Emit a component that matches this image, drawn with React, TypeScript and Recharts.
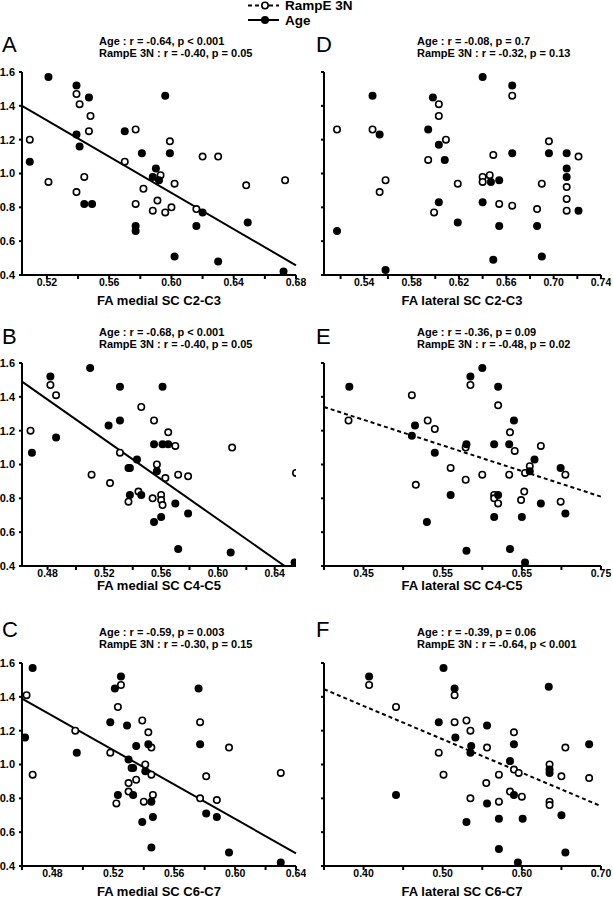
import { ScatterChart, Scatter, XAxis, YAxis, ReferenceLine } from 'recharts'

type Pt = [number, number]

// filled dots = Age, open dots = RampE 3N ; [FA, score]
const ageA: Pt[] = [
  [0.521, 1.57], [0.539, 1.52], [0.547, 1.45], [0.596, 1.46], [0.570, 1.25], [0.539, 1.23],
  [0.541, 1.16], [0.581, 1.12], [0.599, 1.12], [0.509, 1.07], [0.590, 1.03], [0.588, 0.98],
  [0.592, 0.96], [0.544, 0.82], [0.549, 0.82], [0.620, 0.77], [0.649, 0.71], [0.577, 0.69],
  [0.616, 0.69], [0.577, 0.66], [0.602, 0.51], [0.630, 0.48], [0.672, 0.42],
]
const rampA: Pt[] = [
  [0.539, 1.47], [0.541, 1.41], [0.548, 1.34], [0.547, 1.25], [0.577, 1.26], [0.509, 1.20],
  [0.599, 1.19], [0.620, 1.10], [0.630, 1.10], [0.570, 1.07], [0.593, 0.99], [0.544, 0.98],
  [0.521, 0.95], [0.602, 0.94], [0.648, 0.93], [0.673, 0.96], [0.582, 0.91], [0.539, 0.89],
  [0.591, 0.84], [0.577, 0.82], [0.600, 0.80], [0.616, 0.79], [0.588, 0.78], [0.596, 0.77],
]

const ageB: Pt[] = [
  [0.510, 1.57], [0.482, 1.52], [0.531, 1.46], [0.561, 1.46], [0.531, 1.26], [0.523, 1.23],
  [0.486, 1.16], [0.555, 1.12], [0.561, 1.12], [0.565, 1.12], [0.469, 1.07], [0.543, 1.03],
  [0.557, 0.96], [0.537, 0.98], [0.538, 0.82], [0.546, 0.82], [0.570, 0.77], [0.579, 0.71],
  [0.560, 0.69], [0.555, 0.66], [0.572, 0.50], [0.609, 0.48], [0.654, 0.42],
]
const rampB: Pt[] = [
  [0.482, 1.47], [0.486, 1.41], [0.546, 1.34], [0.555, 1.26], [0.468, 1.20], [0.565, 1.19],
  [0.610, 1.10], [0.570, 1.11], [0.531, 1.07], [0.557, 1.00], [0.538, 0.98], [0.511, 0.94],
  [0.572, 0.94], [0.579, 0.93], [0.655, 0.95], [0.563, 0.92], [0.524, 0.89], [0.544, 0.84],
  [0.554, 0.80], [0.560, 0.82], [0.560, 0.79], [0.537, 0.78], [0.561, 0.76],
]

const ageC: Pt[] = [
  [0.467, 1.57], [0.525, 1.52], [0.521, 1.45], [0.576, 1.45], [0.518, 1.25], [0.529, 1.23],
  [0.462, 1.16], [0.535, 1.11], [0.543, 1.12], [0.577, 1.12], [0.496, 1.07], [0.530, 1.03],
  [0.533, 0.98], [0.541, 0.96], [0.523, 0.82], [0.533, 0.82], [0.545, 0.78], [0.581, 0.71],
  [0.588, 0.69], [0.546, 0.69], [0.539, 0.66], [0.545, 0.51], [0.596, 0.48], [0.630, 0.42],
]
const rampC: Pt[] = [
  [0.463, 1.41], [0.525, 1.47], [0.523, 1.34], [0.539, 1.26], [0.577, 1.25], [0.495, 1.20],
  [0.543, 1.19], [0.518, 1.07], [0.596, 1.10], [0.545, 1.10], [0.541, 1.00], [0.532, 0.98],
  [0.545, 0.94], [0.467, 0.94], [0.630, 0.95], [0.581, 0.93], [0.535, 0.91], [0.530, 0.89],
  [0.530, 0.84], [0.546, 0.82], [0.540, 0.78], [0.522, 0.77], [0.577, 0.80], [0.588, 0.79],
]

const ageD: Pt[] = [
  [0.640, 1.57], [0.665, 1.52], [0.547, 1.46], [0.598, 1.45], [0.594, 1.26], [0.553, 1.23],
  [0.603, 1.17], [0.608, 1.08], [0.665, 1.12], [0.696, 1.12], [0.711, 1.12], [0.711, 1.03],
  [0.711, 0.98], [0.647, 0.95], [0.654, 0.96], [0.603, 0.83], [0.640, 0.83], [0.721, 0.78],
  [0.619, 0.71], [0.654, 0.69], [0.686, 0.69], [0.517, 0.66], [0.649, 0.49], [0.690, 0.51],
  [0.558, 0.43],
]
const rampD: Pt[] = [
  [0.665, 1.46], [0.603, 1.41], [0.603, 1.34], [0.517, 1.26], [0.547, 1.26], [0.609, 1.20],
  [0.696, 1.19], [0.649, 1.11], [0.721, 1.10], [0.594, 1.08], [0.640, 0.98], [0.646, 0.99],
  [0.640, 0.95], [0.558, 0.96], [0.619, 0.94], [0.690, 0.94], [0.711, 0.92], [0.553, 0.89],
  [0.711, 0.85], [0.654, 0.82], [0.665, 0.81], [0.686, 0.79], [0.711, 0.78], [0.599, 0.77],
]

const ageE: Pt[] = [
  [0.600, 1.57], [0.585, 1.52], [0.432, 1.46], [0.620, 1.46], [0.640, 1.26], [0.515, 1.23],
  [0.511, 1.17], [0.540, 1.07], [0.580, 1.12], [0.615, 1.12], [0.634, 1.12], [0.666, 1.03],
  [0.660, 0.96], [0.699, 0.98], [0.560, 0.82], [0.620, 0.82], [0.674, 0.77], [0.705, 0.71],
  [0.615, 0.69], [0.650, 0.69], [0.530, 0.66], [0.635, 0.50], [0.580, 0.49], [0.654, 0.42],
]
const rampE: Pt[] = [
  [0.585, 1.47], [0.511, 1.41], [0.620, 1.35], [0.431, 1.26], [0.531, 1.26], [0.540, 1.21],
  [0.635, 1.19], [0.674, 1.11], [0.579, 1.10], [0.641, 1.08], [0.560, 0.98], [0.660, 0.99],
  [0.654, 0.95], [0.600, 0.94], [0.634, 0.94], [0.705, 0.94], [0.579, 0.91], [0.516, 0.88],
  [0.615, 0.82], [0.615, 0.80], [0.620, 0.77], [0.649, 0.79], [0.653, 0.84], [0.699, 0.78],
]

const ageF: Pt[] = [
  [0.501, 1.57], [0.407, 1.52], [0.515, 1.45], [0.634, 1.46], [0.495, 1.25], [0.556, 1.23],
  [0.516, 1.16], [0.536, 1.11], [0.590, 1.12], [0.685, 1.12], [0.535, 1.07], [0.585, 1.02],
  [0.635, 0.97], [0.635, 0.95], [0.441, 0.82], [0.590, 0.82], [0.556, 0.77], [0.571, 0.68],
  [0.601, 0.68], [0.650, 0.70], [0.530, 0.66], [0.571, 0.50], [0.655, 0.48], [0.595, 0.42],
]
const rampF: Pt[] = [
  [0.407, 1.47], [0.515, 1.41], [0.441, 1.34], [0.515, 1.25], [0.530, 1.26], [0.535, 1.20],
  [0.590, 1.19], [0.495, 1.07], [0.556, 1.10], [0.655, 1.10], [0.590, 0.97], [0.596, 0.95],
  [0.635, 1.00], [0.650, 0.93], [0.685, 0.92], [0.501, 0.94], [0.571, 0.94], [0.555, 0.89],
  [0.585, 0.84], [0.600, 0.81], [0.535, 0.80], [0.571, 0.78], [0.635, 0.78], [0.635, 0.76],
]

// regression lines (two end points)
const fitA: Pt[] = [[0.504, 1.40], [0.68, 0.457]]
const fitB: Pt[] = [[0.462, 1.49], [0.647, 0.40]]
const fitC: Pt[] = [[0.46, 1.39], [0.64, 0.475]]
const fitE: Pt[] = [[0.40, 1.34], [0.75, 0.81]]
const fitF: Pt[] = [[0.35, 1.445], [0.70, 0.754]]

const yTicks = [0.4, 0.6, 0.8, 1.0, 1.2, 1.4, 1.6]

const ticksA = [0.52, 0.54, 0.56, 0.58, 0.60, 0.62, 0.64, 0.66, 0.68]
const labelsA = [0.52, 0.56, 0.60, 0.64, 0.68]
const ticksB = [0.48, 0.50, 0.52, 0.54, 0.56, 0.58, 0.60, 0.62, 0.64]
const labelsB = [0.48, 0.52, 0.56, 0.60, 0.64]
const ticksC = [0.46, 0.48, 0.50, 0.52, 0.54, 0.56, 0.58, 0.60, 0.62, 0.64]
const labelsC = [0.48, 0.52, 0.56, 0.60, 0.64]
const ticksD = [0.52, 0.54, 0.56, 0.58, 0.60, 0.62, 0.64, 0.66, 0.68, 0.70, 0.72, 0.74]
const labelsD = [0.54, 0.58, 0.62, 0.66, 0.70, 0.74]
const ticksE = [0.40, 0.45, 0.50, 0.55, 0.60, 0.65, 0.70, 0.75]
const labelsE = [0.45, 0.55, 0.65, 0.75]
const ticksF = [0.35, 0.40, 0.45, 0.50, 0.55, 0.60, 0.65, 0.70]
const labelsF = [0.40, 0.50, 0.60, 0.70]

const statsA = ['Age : r = -0.64, p < 0.001', 'RampE 3N : r = -0.40, p = 0.05']
const statsB = ['Age : r = -0.68, p < 0.001', 'RampE 3N : r = -0.40, p = 0.05']
const statsC = ['Age : r = -0.59, p = 0.003', 'RampE 3N : r = -0.30, p = 0.15']
const statsD = ['Age : r = -0.08, p = 0.7', 'RampE 3N : r = -0.32, p = 0.13']
const statsE = ['Age : r = -0.36, p = 0.09', 'RampE 3N : r = -0.48, p = 0.02']
const statsF = ['Age : r = -0.39, p = 0.06', 'RampE 3N : r = -0.64, p < 0.001']

const font = '"Liberation Sans", Arial, Helvetica, sans-serif'

const COLS = [
  { left: 22, right: 296, letterX: 2, statsX: 99 },
  { left: 323.5, right: 600.5, letterX: 316, statsX: 417 },
]
const ROWS = [
  { top: 72, letterY: 45, stats1: 41.7, stats2: 53.3, titleY: [300, 300] },
  { top: 363, letterY: 336.5, stats1: 332.3, stats2: 344, titleY: [585.5, 585.5] },
  { top: 663, letterY: 629.5, stats1: 632.3, stats2: 644.8, titleY: [891.7, 891.7] },
]
const PLOT_H = 203

const panels = [
  { letter: 'A', col: 0, row: 0, age: ageA, ramp: rampA, domain: [0.504, 0.68], ticks: ticksA, labels: labelsA, fit: fitA, dashed: false, stats: statsA, title: 'FA medial SC C2-C3' },
  { letter: 'B', col: 0, row: 1, age: ageB, ramp: rampB, domain: [0.462, 0.655], ticks: ticksB, labels: labelsB, fit: fitB, dashed: false, stats: statsB, title: 'FA medial SC C4-C5' },
  { letter: 'C', col: 0, row: 2, age: ageC, ramp: rampC, domain: [0.46, 0.64], ticks: ticksC, labels: labelsC, fit: fitC, dashed: false, stats: statsC, title: 'FA medial SC C6-C7' },
  { letter: 'D', col: 1, row: 0, age: ageD, ramp: rampD, domain: [0.506, 0.74], ticks: ticksD, labels: labelsD, fit: null, dashed: false, stats: statsD, title: 'FA lateral SC C2-C3' },
  { letter: 'E', col: 1, row: 1, age: ageE, ramp: rampE, domain: [0.40, 0.75], ticks: ticksE, labels: labelsE, fit: fitE, dashed: true, stats: statsE, title: 'FA lateral SC C4-C5' },
  { letter: 'F', col: 1, row: 2, age: ageF, ramp: rampF, domain: [0.35, 0.70], ticks: ticksF, labels: labelsF, fit: fitF, dashed: true, stats: statsF, title: 'FA lateral SC C6-C7' },
]

const filledDot = (props: any) => <circle cx={props.cx} cy={props.cy} r={4} fill="#000" />
const openDot = (props: any) => (
  <circle cx={props.cx} cy={props.cy} r={3.2} fill="#fff" stroke="#000" strokeWidth={1.6} />
)

const axisStyle = { stroke: '#000', strokeWidth: 2 }

function Panel({ p }: { p: (typeof panels)[number] }) {
  const col = COLS[p.col]
  const row = ROWS[p.row]
  const YW = 22
  const MT = 10
  const MR = 10
  const XH = 20
  const width = YW + (col.right - col.left) + MR
  const height = MT + PLOT_H + XH
  const age = p.age.map(([x, y]) => ({ x, y }))
  const ramp = p.ramp.map(([x, y]) => ({ x, y }))
  const xFmt = (v: number) => (p.labels.some((l) => Math.abs(l - v) < 1e-6) ? v.toFixed(2) : '')
  const yFmt = (v: number) => (p.col === 0 ? v.toFixed(1) : '')

  return (
    <>
      <div style={{ position: 'absolute', left: col.left - YW, top: row.top - MT }}>
        <ScatterChart width={width} height={height} margin={{ top: MT, right: MR, bottom: 0, left: 0 }}>
          <XAxis
            type="number"
            dataKey="x"
            domain={p.domain}
            ticks={p.ticks}
            interval={0}
            allowDataOverflow
            height={XH}
            tickSize={4}
            tickMargin={0}
            axisLine={axisStyle}
            tickLine={axisStyle}
            tickFormatter={xFmt}
            tick={{ fill: '#000', fontSize: 10.5, fontWeight: 'bold', fontFamily: font }}
          />
          <YAxis
            type="number"
            dataKey="y"
            domain={[0.4, 1.6]}
            ticks={yTicks}
            interval={0}
            allowDataOverflow
            width={YW}
            tickSize={3}
            tickMargin={4}
            axisLine={axisStyle}
            tickLine={axisStyle}
            tickFormatter={yFmt}
            tick={{ fill: '#000', fontSize: 11, fontWeight: 'bold', fontFamily: font }}
          />
          {p.fit && (
            <ReferenceLine
              segment={p.fit.map(([x, y]) => ({ x, y }))}
              stroke="#000"
              strokeWidth={2}
              strokeDasharray={p.dashed ? '4 3' : undefined}
              ifOverflow="visible"
            />
          )}
          <Scatter data={ramp} shape={openDot} isAnimationActive={false} />
          <Scatter data={age} shape={filledDot} isAnimationActive={false} />
        </ScatterChart>
      </div>
      <div
        style={{
          position: 'absolute', left: col.letterX, top: row.letterY - 0.49 * 22,
          fontSize: 22, lineHeight: 1, fontFamily: font,
        }}
      >
        {p.letter}
      </div>
      {p.stats.map((s, i) => (
        <div
          key={i}
          style={{
            position: 'absolute', left: col.statsX, top: (i === 0 ? row.stats1 : row.stats2) - 0.49 * 11,
            fontSize: 11, lineHeight: 1, fontWeight: 'bold', fontFamily: font, whiteSpace: 'nowrap',
          }}
        >
          {s}
        </div>
      ))}
      <div
        style={{
          position: 'absolute', left: col.left, width: col.right - col.left,
          top: row.titleY[p.col] - 0.49 * 13, textAlign: 'center',
          fontSize: 13, lineHeight: 1, fontWeight: 'bold', fontFamily: font, whiteSpace: 'nowrap',
        }}
      >
        {p.title}
      </div>
    </>
  )
}

function LegendBox() {
  return (
    <svg style={{ position: 'absolute', left: 240, top: 0 }} width={130} height={28}>
      <line x1={8} y1={5.5} x2={39} y2={5.5} stroke="#000" strokeWidth={2} strokeDasharray="4 3" />
      <circle cx={25} cy={5.5} r={3.2} fill="#fff" stroke="#000" strokeWidth={1.6} />
      <text x={45} y={5.5 + 0.36 * 13.5} fontSize={13.5} fontWeight="bold" fontFamily={font}>RampE 3N</text>
      <line x1={8} y1={20} x2={39} y2={20} stroke="#000" strokeWidth={2} />
      <circle cx={25} cy={20} r={4} fill="#000" />
      <text x={45} y={20 + 0.36 * 13.5} fontSize={13.5} fontWeight="bold" fontFamily={font}>Age</text>
    </svg>
  )
}

export default function App() {
  return (
    <div style={{ position: 'absolute', left: 0, top: 0, width: 613, height: 899, background: '#fff' }}>
      <LegendBox />
      {panels.map((p) => (
        <Panel key={p.letter} p={p} />
      ))}
    </div>
  )
}
